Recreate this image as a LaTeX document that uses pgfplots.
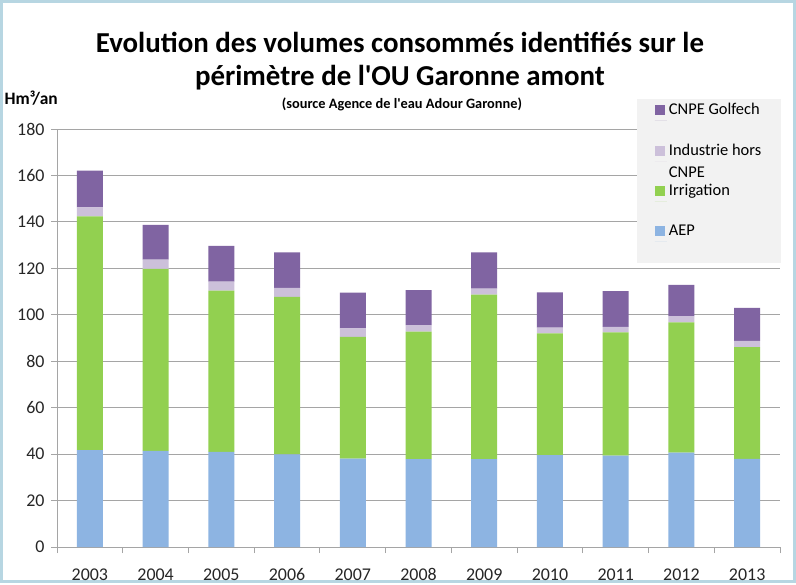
\documentclass[border=0pt]{standalone}
\usepackage{pgfplots}
\usepackage{pgfplotstable}
\pgfplotsset{compat=1.18}
\usepackage{fontspec}
\setmainfont{Carlito}[Ligatures=TeXOff]
\definecolor{aep}{RGB}{141,180,226}
\definecolor{irr}{RGB}{146,208,80}
\definecolor{ind}{RGB}{204,192,218}
\definecolor{cnpe}{RGB}{128,100,162}
\definecolor{gridc}{RGB}{165,165,165}
\definecolor{framec}{RGB}{183,214,226}
\definecolor{legbg}{RGB}{242,242,242}
\pgfplotstableread{
x aep irr ind cnpe
0 41.7 100.7 3.9 15.8
1 41.4 78.4 4.0 14.9
2 41.0 69.4 3.9 15.4
3 39.9 67.8 3.9 15.3
4 38.1 52.4 3.6 15.4
5 37.8 54.9 2.8 15.1
6 37.8 70.9 2.6 15.6
7 39.6 52.4 2.5 15.2
8 39.4 53.0 2.4 15.4
9 40.6 56.1 2.7 13.5
10 38.0 48.1 2.7 14.2
}\data
\begin{document}
\begin{tikzpicture}[x=1bp,y=1bp]
\fill[white] (0,0) rectangle (796,583);
\draw[framec, line width=3bp] (1.5,1.5) rectangle (794.5,581.5);
\node[font=\bfseries\fontsize{29}{33}\selectfont, align=center] at (400,521.5) {Evolution des volumes consommés identifiés sur le\\périmètre de l'OU Garonne amont};
\node[font=\bfseries\fontsize{14.4}{16}\selectfont] at (402,479) {(source Agence de l'eau Adour Garonne)};
\node[font=\bfseries\fontsize{17.5}{20}\selectfont, anchor=west] at (1,485) {Hm³/an};
\begin{axis}[at={(57bp,36bp)}, anchor=south west, width=723bp, height=418bp, scale only axis,
  ybar stacked, bar width=26bp,
  xmin=-0.5, xmax=10.5, ymin=0, ymax=180,
  ytick={0,20,...,180},
  xtick={0,...,10}, xticklabels={2003,2004,2005,2006,2007,2008,2009,2010,2011,2012,2013},
  minor xtick={-0.5,0.5,...,10.5},
  major x tick style={draw=none},
  minor tick length=6bp, major tick length=6bp,
  tick align=outside,
  ymajorgrids, grid style={gridc, line width=0.9bp},
  axis lines*=left,
  axis line style={gridc, line width=0.9bp},
  tick style={gridc, line width=0.9bp},
  ticklabel style={font=\fontsize{18}{20}\selectfont, text=black!85},
  xticklabel style={yshift=-12bp},
  yticklabel style={xshift=-3bp},
  /pgf/number format/assume math mode=true,
  reverse legend,
  legend style={at={(1.002,1.0715)}, anchor=north east, fill=legbg, draw=none,
    font=\fontsize{16.5}{20.3}\selectfont, cells={anchor=west, align=left}, row sep=2bp,
    inner xsep=18bp, inner ysep=2bp},
  legend image code/.code={\fill[#1] (0bp,5.5bp) rectangle (10bp,15.5bp); \path (0bp,0bp) -- (12bp,0bp);},
]
\addplot[fill=aep, draw=none] table[x=x, y=aep] {\data};
\addlegendentry{AEP\\[1.5bp]\strut}
\addplot[fill=irr, draw=none] table[x=x, y=irr] {\data};
\addlegendentry{Irrigation\\[1.5bp]\strut}
\addplot[fill=ind, draw=none] table[x=x, y=ind] {\data};
\addlegendentry{Industrie hors\\[1.5bp]CNPE}
\addplot[fill=cnpe, draw=none] table[x=x, y=cnpe] {\data};
\addlegendentry{CNPE Golfech\\[1.5bp]\strut}
\end{axis}
\end{tikzpicture}
\end{document}
